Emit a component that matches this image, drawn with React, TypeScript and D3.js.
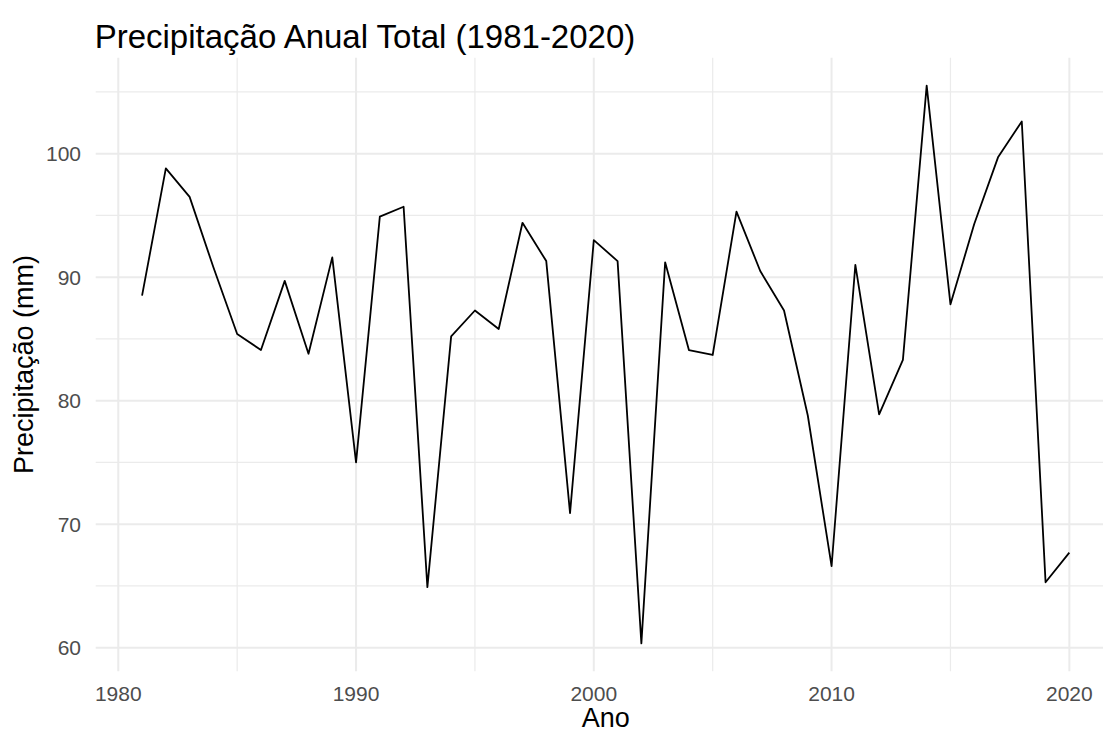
import React from "react";
import * as d3 from "d3";

const years: number[] = [
  1981, 1982, 1983, 1984, 1985, 1986, 1987, 1988, 1989, 1990,
  1991, 1992, 1993, 1994, 1995, 1996, 1997, 1998, 1999, 2000,
  2001, 2002, 2003, 2004, 2005, 2006, 2007, 2008, 2009, 2010,
  2011, 2012, 2013, 2014, 2015, 2016, 2017, 2018, 2019, 2020,
];
const precip: number[] = [
  88.5, 98.8, 96.5, 90.8, 85.4, 84.1, 89.7, 83.8, 91.6, 75.0,
  94.9, 95.7, 64.9, 85.2, 87.3, 85.8, 94.4, 91.3, 70.9, 93.0,
  91.3, 60.35, 91.2, 84.1, 83.7, 95.3, 90.5, 87.3, 78.8, 66.6,
  91.0, 78.9, 83.3, 105.5, 87.8, 94.3, 99.7, 102.6, 65.3, 67.7,
];
const xMajorTicks: number[] = [1980, 1990, 2000, 2010, 2020];
const xMinorTicks: number[] = [1985, 1995, 2005, 2015];
const yMajorTicks: number[] = [60, 70, 80, 90, 100];
const yMinorTicks: number[] = [65, 75, 85, 95, 105];

const title = "Precipitação Anual Total (1981-2020)";
const xTitle = "Ano";
const yTitle = "Precipitação (mm)";

const W = 1103;
const H = 733;
const FONT = "'Liberation Sans', Arial, Helvetica, sans-serif";

export default function App() {
  const xMin = d3.min(years)!;
  const xMax = d3.max(years)!;
  const yMin = d3.min(precip)!;
  const yMax = d3.max(precip)!;
  const xPad = (xMax - xMin) * 0.05;
  const yPad = (yMax - yMin) * 0.05;

  const panelLeft = 95.7;
  const panelRight = 1115.7;
  const panelTop = 57.8;
  const panelBottom = 671.3;

  const x = d3.scaleLinear().domain([xMin - xPad, xMax + xPad]).range([panelLeft, panelRight]);
  const y = d3.scaleLinear().domain([yMin - yPad, yMax + yPad]).range([panelBottom, panelTop]);

  const line = d3
    .line<number>()
    .x((_, i) => x(years[i]))
    .y((d) => y(d));

  const gridColor = "#ebebeb";

  return (
    <svg
      width={W}
      height={H}
      style={{ position: "fixed", left: 0, top: 0, background: "#fff" }}
      xmlns="http://www.w3.org/2000/svg"
    >
      <rect x={0} y={0} width={W} height={H} fill="#ffffff" />
      {/* minor grid */}
      {yMinorTicks.map((t) => (
        <line key={"ymn" + t} x1={panelLeft} x2={panelRight} y1={y(t)} y2={y(t)} stroke={gridColor} strokeWidth={1.2} />
      ))}
      {xMinorTicks.map((t) => (
        <line key={"xmn" + t} x1={x(t)} x2={x(t)} y1={panelTop} y2={panelBottom} stroke={gridColor} strokeWidth={1.2} />
      ))}
      {/* major grid */}
      {yMajorTicks.map((t) => (
        <line key={"ymj" + t} x1={panelLeft} x2={panelRight} y1={y(t)} y2={y(t)} stroke={gridColor} strokeWidth={2} />
      ))}
      {xMajorTicks.map((t) => (
        <line key={"xmj" + t} x1={x(t)} x2={x(t)} y1={panelTop} y2={panelBottom} stroke={gridColor} strokeWidth={2} />
      ))}

      {/* data line */}
      <path d={line(precip) || ""} fill="none" stroke="#000000" strokeWidth={1.8} strokeLinejoin="round" />

      {/* y tick labels */}
      {yMajorTicks.map((t) => (
        <text
          key={"yl" + t}
          x={81}
          y={y(t)}
          dy="0.36em"
          textAnchor="end"
          fontFamily={FONT}
          fontSize={21}
          fill="#4d4d4d"
        >
          {t}
        </text>
      ))}
      {/* x tick labels */}
      {xMajorTicks.map((t) => (
        <text
          key={"xl" + t}
          x={x(t)}
          y={701}
          textAnchor="middle"
          fontFamily={FONT}
          fontSize={21}
          fill="#4d4d4d"
        >
          {t}
        </text>
      ))}

      {/* axis titles */}
      <text
        x={(panelLeft + panelRight) / 2}
        y={727}
        textAnchor="middle"
        fontFamily={FONT}
        fontSize={27}
        fill="#000"
      >
        {xTitle}
      </text>
      <text
        transform={`translate(33, ${(panelTop + panelBottom) / 2}) rotate(-90)`}
        textAnchor="middle"
        fontFamily={FONT}
        fontSize={27}
        fill="#000"
      >
        {yTitle}
      </text>

      {/* title */}
      <text x={panelLeft - 1} y={48} fontFamily={FONT} fontSize={33} fill="#000">
        {title}
      </text>
    </svg>
  );
}
